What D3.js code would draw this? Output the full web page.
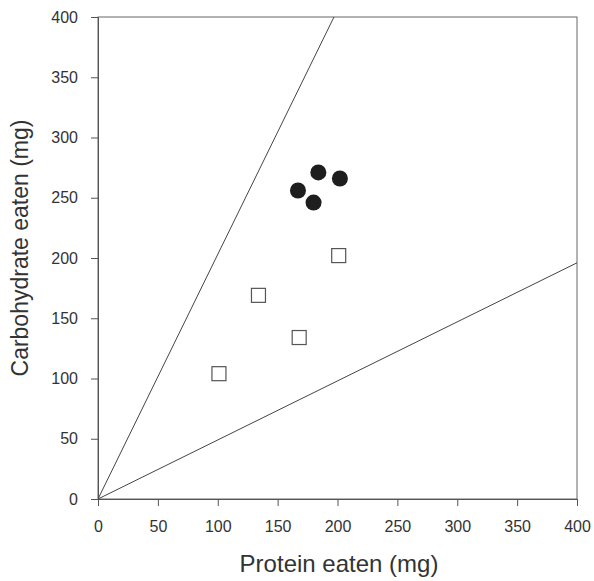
<!DOCTYPE html>
<html>
<head>
<meta charset="utf-8">
<script src="https://cdn.jsdelivr.net/npm/d3@7"></script>
<style>
  body { margin: 0; background: #fff; }
  svg text { font-family: "Liberation Sans", Arial, sans-serif; fill: #333; }
</style>
</head>
<body>
<div id="chart"></div>
<script>
// ticks
var xTicks = [0, 50, 100, 150, 200, 250, 300, 350, 400];
var yTicks = [0, 50, 100, 150, 200, 250, 300, 350, 400];

// filled circles (protein, carbohydrate)
var circleProtein = [167, 184, 202, 180];
var circleCarb = [256, 271, 266, 246];

// open squares
var squareProtein = [101, 134, 168, 201];
var squareCarb = [104, 169, 134, 202];

// reference rails (carb : protein ratio)
var railRatios = [2.03, 0.49];

var margin = { top: 17, right: 17, bottom: 82, left: 98 };
var width = 594 - margin.left - margin.right;
var height = 581 - margin.top - margin.bottom;

var svg = d3.select('#chart')
  .append('svg')
  .attr('width', 594)
  .attr('height', 581)
  .append('g')
  .attr('transform', 'translate(' + margin.left + ',' + margin.top + ')');

var xScale = d3.scaleLinear().domain([0, 400]).range([0, width]);
var yScale = d3.scaleLinear().domain([0, 400]).range([height, 0]);

// frame
svg.append('rect')
  .attr('x', 0).attr('y', 0)
  .attr('width', width).attr('height', height)
  .attr('fill', 'none')
  .attr('stroke', '#666')
  .attr('stroke-width', 1);

// x axis
var xAxis = svg.append('g')
  .attr('transform', 'translate(0,' + height + ')')
  .call(d3.axisBottom(xScale).tickValues(xTicks).tickSize(7).tickPadding(15));
xAxis.selectAll('text').style('font-size', '16px');

// y axis
var yAxis = svg.append('g')
  .call(d3.axisLeft(yScale).tickValues(yTicks).tickSize(7).tickPadding(13));
yAxis.selectAll('text').style('font-size', '16px');

svg.selectAll('.domain').attr('stroke', '#555');
svg.selectAll('.tick line').attr('stroke', '#555');

// rails from the origin, clipped to the frame
svg.append('clipPath').attr('id', 'plotclip')
  .append('rect').attr('width', width).attr('height', height);

svg.append('g').attr('clip-path', 'url(#plotclip)')
  .selectAll('line.rail')
  .data(railRatios)
  .enter().append('line')
  .attr('class', 'rail')
  .attr('x1', xScale(0))
  .attr('y1', yScale(0))
  .attr('x2', d => xScale(Math.min(400, 400 / d)))
  .attr('y2', d => yScale(Math.min(400, 400 * d)))
  .attr('stroke', '#444')
  .attr('stroke-width', 1);

// squares
var squares = squareProtein.map((p, i) => ({ p: p, c: squareCarb[i] }));
svg.selectAll('rect.sq')
  .data(squares)
  .enter().append('rect')
  .attr('class', 'sq')
  .attr('x', d => xScale(d.p) - 7)
  .attr('y', d => yScale(d.c) - 7)
  .attr('width', 14)
  .attr('height', 14)
  .attr('fill', 'none')
  .attr('stroke', '#555')
  .attr('stroke-width', 1.2);

// circles
var dots = circleProtein.map((p, i) => ({ p: p, c: circleCarb[i] }));
svg.selectAll('circle.dot')
  .data(dots)
  .enter().append('circle')
  .attr('class', 'dot')
  .attr('cx', d => xScale(d.p))
  .attr('cy', d => yScale(d.c))
  .attr('r', 8)
  .attr('fill', '#1e1e1e');

// axis titles
svg.append('text')
  .attr('x', 241)
  .attr('y', height + 73)
  .style('text-anchor', 'middle')
  .style('font-size', '24px')
  .text('Protein eaten (mg)');

svg.append('text')
  .attr('transform', 'rotate(-90)')
  .attr('x', -231)
  .attr('y', -70)
  .style('text-anchor', 'middle')
  .style('font-size', '23px')
  .text('Carbohydrate eaten (mg)');
</script>
</body>
</html>
